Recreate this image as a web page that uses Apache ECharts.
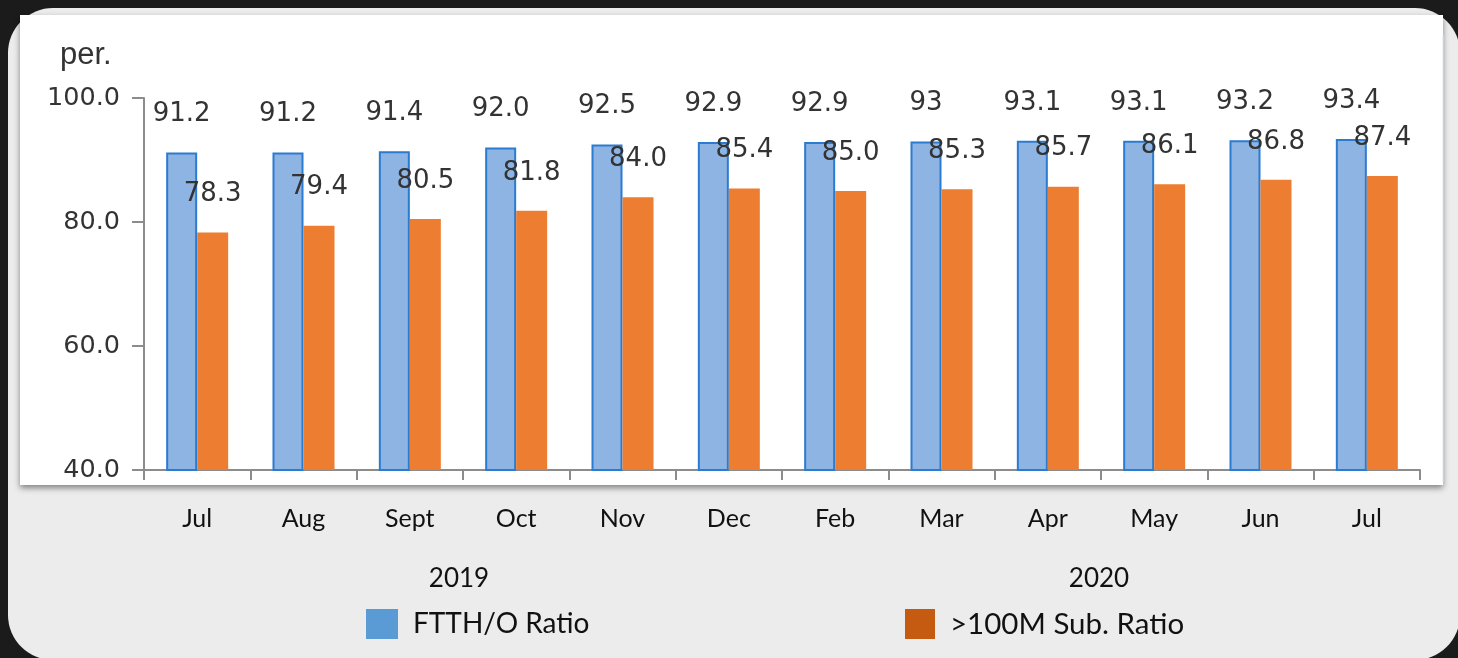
<!DOCTYPE html>
<html>
<head>
<meta charset="utf-8">
<script src="https://cdn.jsdelivr.net/npm/echarts@6/dist/echarts.min.js"></script>
<style>
  html, body { margin: 0; padding: 0; background: #1b1b1b; }
  #myChart { width: 1458px; height: 658px; }
</style>
</head>
<body>
<div id="myChart"></div>
<script>
  // months Jul 2019 .. Jul 2020
  var months = ['Jul', 'Aug', 'Sept', 'Oct', 'Nov', 'Dec', 'Feb', 'Mar', 'Apr', 'May', 'Jun', 'Jul'];
  var ftthRatio = [91.2, 91.2, 91.4, 92.0, 92.5, 92.9, 92.9, 93, 93.1, 93.1, 93.2, 93.4];
  var ftthLabels = ['91.2', '91.2', '91.4', '92.0', '92.5', '92.9', '92.9', '93', '93.1', '93.1', '93.2', '93.4'];
  var subRatio = [78.3, 79.4, 80.5, 81.8, 84.0, 85.4, 85.0, 85.3, 85.7, 86.1, 86.8, 87.4];
  var subLabels = ['78.3', '79.4', '80.5', '81.8', '84.0', '85.4', '85.0', '85.3', '85.7', '86.1', '86.8', '87.4'];
  var yTicks = [40, 60, 80, 100];
  var years = ['2019', '2020'];

  var myChart = echarts.init(document.getElementById('myChart'));

  var labelStyle = {
    show: true,
    position: 'top',
    distance: 25,
    fontFamily: 'DejaVu Sans',
    fontSize: 26,
    color: '#333'
  };

  myChart.setOption({
    backgroundColor: '#1b1b1b',
    animation: false,
    title: {
      text: 'per.',
      left: 55,
      top: 35,
      textStyle: { fontFamily: 'Liberation Sans', fontSize: 31, fontWeight: 'normal', color: '#333' }
    },
    graphic: [
      // light card
      { type: 'rect', z: -20, shape: { x: 8, y: 8, width: 1452, height: 652, r: 45 }, style: { fill: '#ececec' } },
      // white plot panel
      { type: 'rect', z: -10, shape: { x: 20, y: 15, width: 1423, height: 470 },
        style: { fill: '#ffffff', shadowBlur: 6, shadowOffsetY: 3, shadowColor: 'rgba(0,0,0,0.45)' } },
      { type: 'line', z: -5, shape: { x1: 1443, y1: 35, x2: 1443, y2: 482 }, style: { stroke: '#dbe6f3', lineWidth: 1 } },
      { type: 'text', z: 10, style: { text: years[0], x: 459, y: 579, align: 'center', verticalAlign: 'middle',
          font: '26px Lato', fill: '#111' } },
      { type: 'text', z: 10, style: { text: years[1], x: 1099, y: 579, align: 'center', verticalAlign: 'middle',
          font: '26px Lato', fill: '#111' } }
    ],
    legend: [
      {
        data: [{ name: 'FTTH/O Ratio', itemStyle: { color: '#5b9bd5', borderWidth: 0 } }],
        left: 366, top: 609, padding: 0,
        itemWidth: 32, itemHeight: 30, icon: 'rect',
        textStyle: { fontFamily: 'Lato', fontSize: 28, color: '#111', padding: [0, 0, 0, 10] }
      },
      {
        data: [{ name: '>100M Sub. Ratio', itemStyle: { color: '#c55a11', borderWidth: 0 } }],
        left: 905, top: 609, padding: 0,
        itemWidth: 30, itemHeight: 30, icon: 'rect',
        textStyle: { fontFamily: 'Lato', fontSize: 29.5, color: '#111', padding: [0, 0, 0, 10] }
      }
    ],
    grid: { left: 144, right: 38, top: 98, bottom: 188, containLabel: false },
    xAxis: {
      type: 'category',
      data: months,
      axisLine: { lineStyle: { color: '#8c8c8c', width: 2 } },
      axisTick: { show: true, length: 10, lineStyle: { color: '#8c8c8c', width: 2 } },
      axisLabel: { margin: 36, fontFamily: 'Lato', fontSize: 25, color: '#111' }
    },
    yAxis: {
      type: 'value',
      min: yTicks[0],
      max: yTicks[yTicks.length - 1],
      interval: 20,
      splitLine: { show: false },
      axisLine: { show: true, lineStyle: { color: '#8c8c8c', width: 2 } },
      axisTick: { show: true, length: 12, lineStyle: { color: '#8c8c8c', width: 2 } },
      axisLabel: {
        margin: 24,
        fontFamily: 'DejaVu Sans',
        fontSize: 25.5,
        color: '#333',
        formatter: function (v) { return v.toFixed(1); }
      }
    },
    series: [
      {
        name: 'FTTH/O Ratio',
        type: 'bar',
        data: ftthRatio,
        barWidth: 31,
        barGap: '0%',
        itemStyle: { color: '#8eb4e3', borderColor: '#2b7bd0', borderWidth: 2 },
        label: Object.assign({}, labelStyle, {
          formatter: function (p) { return ftthLabels[p.dataIndex]; }
        })
      },
      {
        name: '>100M Sub. Ratio',
        type: 'bar',
        data: subRatio,
        barWidth: 31,
        barGap: '0%',
        itemStyle: { color: '#ed7d31' },
        label: Object.assign({}, labelStyle, {
          formatter: function (p) { return subLabels[p.dataIndex]; }
        })
      }
    ]
  });
</script>
</body>
</html>
